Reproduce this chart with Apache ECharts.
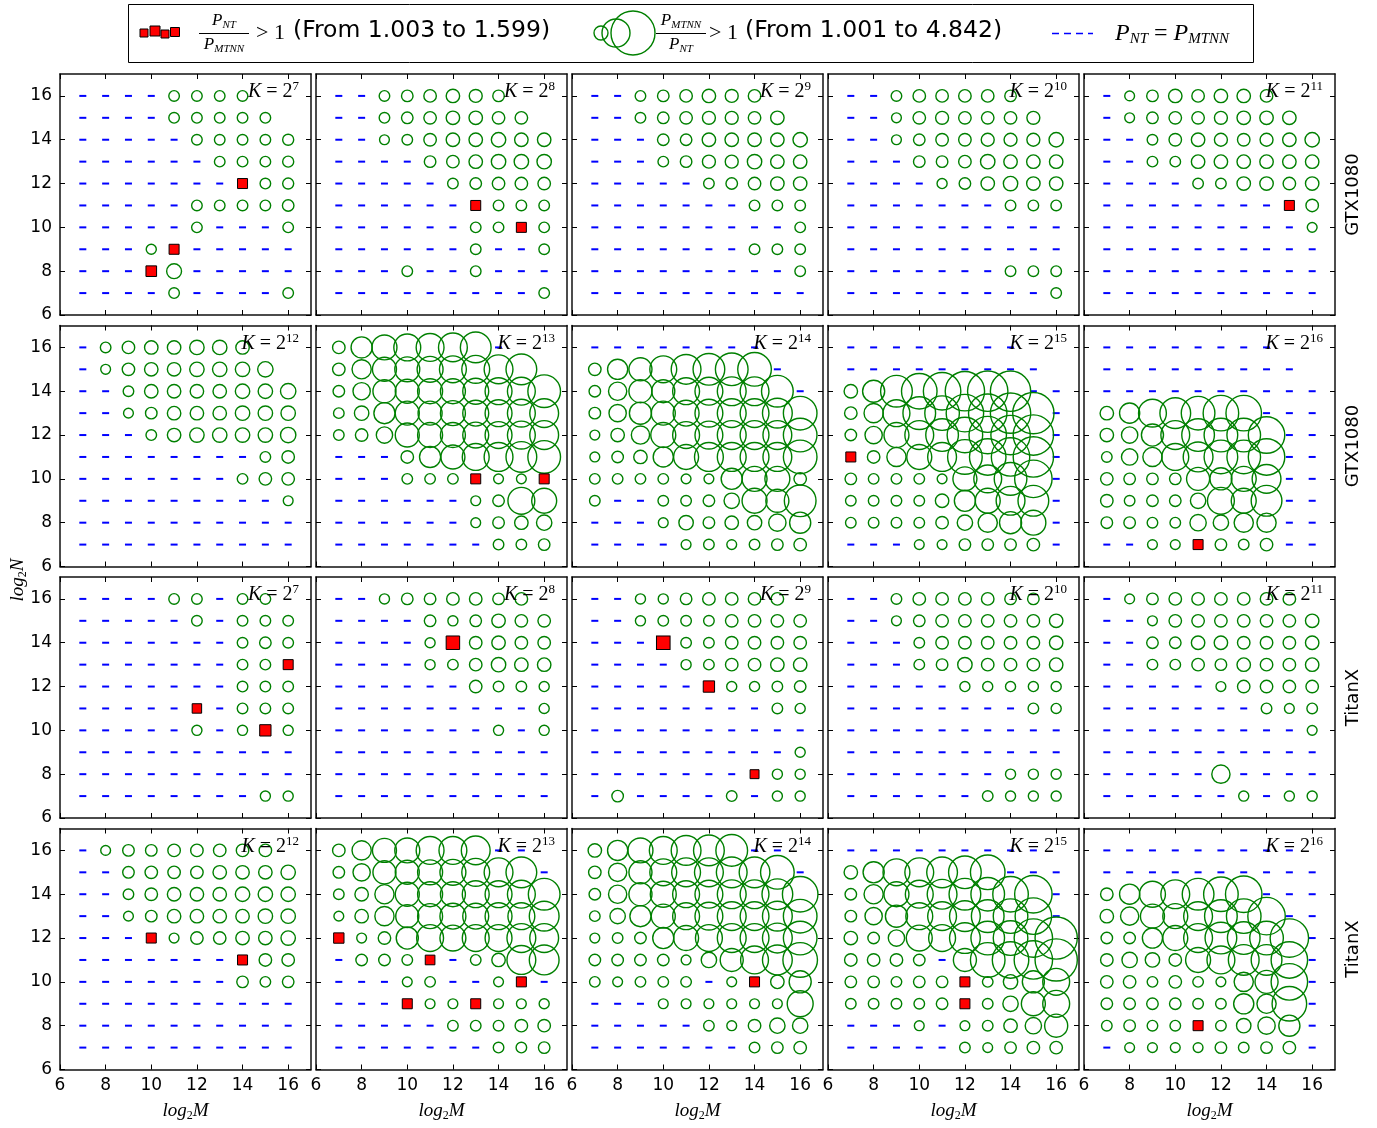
<!DOCTYPE html>
<html>
<head>
<meta charset="utf-8">
<title>NT vs MTNN</title>
<script src="https://cdn.jsdelivr.net/npm/echarts@6/dist/echarts.min.js"></script>
<style>
html,body{margin:0;padding:0;background:#fff;}
#main{width:1377px;height:1128px;}
</style>
</head>
<body>
<div id="main"></div>
<script>
var _ = null;
var M_VALUES = [7, 8, 9, 10, 11, 12, 13, 14, 15, 16];
var N_VALUES = [16, 15, 14, 13, 12, 11, 10, 9, 8, 7];
var TICKS = [6, 8, 10, 12, 14, 16];
var K_EXP = [7, 8, 9, 10, 11, 12, 13, 14, 15, 16];
var GPUS = ['GTX1080', 'TitanX'];

// P_MTNN / P_NT, rows N=16..7, columns M=7..16
// 1 = equal, >1 = MTNN faster (circle), <1 = NT faster (square), null = not run
var gtx_k7 = [
  [1,1,1,1,1.1,1.1,1.1,1.1,_,_],
  [1,1,1,1,1.1,1.1,1.1,1.1,1.1,_],
  [1,1,1,1,1,1.1,1.1,1.1,1.1,1.15],
  [1,1,1,1,1,1,1.1,1.1,1.1,1.15],
  [1,1,1,1,1,1,1,0.85,1.1,1.15],
  [1,1,1,1,1,1.1,1.1,1.1,1.1,1.2],
  [1,1,1,1,1,1.1,1,1,1,1.1],
  [1,1,1,1.05,0.85,1,1,1,1,1],
  [1,1,1,0.8,1.55,1,1,1,1,1],
  [1,1,1,1,1.1,1,1,1,1,1.1]
];
var gtx_k8 = [
  [1,1,1.1,1.2,1.3,1.4,1.35,1.2,_,_],
  [1,1,1.1,1.2,1.3,1.4,1.4,1.3,1.3,_],
  [1,1,1.02,1.1,1.3,1.4,1.4,1.5,1.4,1.4],
  [1,1,1,1,1.2,1.3,1.4,1.5,1.5,1.5],
  [1,1,1,1,1,1.1,1.2,1.3,1.3,1.3],
  [1,1,1,1,1,1,0.85,1.1,1.1,1.1],
  [1,1,1,1,1,1,1.1,1.1,0.85,1.1],
  [1,1,1,1,1,1,1.1,1,1,1.1],
  [1,1,1,1.1,1,1,1.1,1,1,1],
  [1,1,1,1,1,1,1,1,1,1.1]
];
var gtx_k9 = [
  [1,1,1.1,1.2,1.3,1.4,1.35,1.3,_,_],
  [1,1,1.1,1.2,1.3,1.35,1.35,1.3,1.4,_],
  [1,1,1,1.2,1.2,1.4,1.4,1.4,1.4,1.5],
  [1,1,1,1.1,1.2,1.35,1.35,1.5,1.4,1.4],
  [1,1,1,1,1,1.1,1.2,1.3,1.4,1.4],
  [1,1,1,1,1,1,1,1.1,1.1,1.1],
  [1,1,1,1,1,1,1,1,1,1.1],
  [1,1,1,1,1,1,1,1.1,1.1,1.1],
  [1,1,1,1,1,1,1,1,1,1.1],
  [1,1,1,1,1,1,1,1,1,1]
];
var gtx_k10 = [
  [1,1,1.1,1.3,1.3,1.3,1.3,1.2,_,_],
  [1,1,1.02,1.3,1.35,1.3,1.3,1.3,1.35,_],
  [1,1,1.02,1.2,1.3,1.3,1.35,1.35,1.35,1.5],
  [1,1,1,1.2,1.2,1.3,1.5,1.4,1.4,1.4],
  [1,1,1,1,1.05,1.2,1.4,1.5,1.4,1.4],
  [1,1,1,1,1,1,1,1.1,1.1,1.1],
  [1,1,1,1,1,1,1,1,1,1],
  [1,1,1,1,1,1,1,1,1,1],
  [1,1,1,1,1,1,1,1.1,1.1,1.1],
  [1,1,1,1,1,1,1,1,1,1.1]
];
var gtx_k11 = [
  [1,1.02,1.2,1.4,1.3,1.4,1.4,1.3,_,_],
  [1,1.02,1.2,1.3,1.3,1.35,1.4,1.4,1.4,_],
  [1,1,1.1,1.3,1.4,1.35,1.3,1.35,1.4,1.5],
  [1,1,1.1,1.1,1.4,1.4,1.4,1.4,1.4,1.4],
  [1,1,1,1,1.1,1.1,1.4,1.4,1.3,1.4],
  [1,1,1,1,1,1,1,1,0.85,1.3],
  [1,1,1,1,1,1,1,1,1,1.02],
  [1,1,1,1,1,1,1,1,1,1],
  [1,1,1,1,1,1,1,1,1,1],
  [1,1,1,1,1,1,1,1,1,1]
];
var gtx_k12 = [
  [1,1.1,1.3,1.4,1.4,1.5,1.5,1.4,_,_],
  [1,1.02,1.3,1.4,1.4,1.5,1.5,1.5,1.6,_],
  [1,1,1.1,1.4,1.4,1.4,1.4,1.5,1.5,1.6],
  [1,1,1.02,1.2,1.4,1.4,1.4,1.5,1.5,1.5],
  [1,1,1,1.1,1.4,1.5,1.5,1.5,1.5,1.6],
  [1,1,1,1,1,1,1,1,1.1,1.3],
  [1,1,1,1,1,1,1,1.1,1.3,1.3],
  [1,1,1,1,1,1,1,1,1,1.02],
  [1,1,1,1,1,1,1,1,1,1],
  [1,1,1,1,1,1,1,1,1,1]
];
var gtx_k13 = [
  [1.3,2.2,2.6,2.8,2.9,3.0,3.2,1,_,_],
  [1.3,2.0,2.5,2.6,2.7,2.8,2.9,3.0,3.2,_],
  [1.2,1.8,2.4,2.5,2.6,2.6,2.7,2.8,2.9,3.4],
  [1.1,1.5,2.2,2.5,2.5,2.6,2.7,2.8,2.9,3.0],
  [1.1,1.3,1.7,2.5,2.6,2.6,2.7,2.8,2.9,3.0],
  [1,1,1,1.3,2.2,2.5,2.8,3.0,3.2,3.4],
  [1,1,1,1.1,1.1,1.1,0.85,1.02,1.02,0.85],
  [1,1,1,1,1,1,1.02,1.2,2.8,2.6],
  [1,1,1,1,1,1,1.02,1.2,1.4,1.6],
  [1,1,1,1,1,1,1,1.1,1.1,1.2]
];
var gtx_k14 = [
  [1,1,1,1,1,1,1,1,_,_],
  [1.3,2.1,2.4,2.8,3.1,3.3,3.4,3.5,1,_],
  [1.2,1.9,2.4,2.4,2.8,2.9,3.0,3.0,3.3,1],
  [1.2,1.8,2.3,2.5,2.7,2.9,3.0,3.0,3.1,3.5],
  [1.02,1.4,1.9,2.6,2.8,2.9,3.0,3.0,3.0,3.5],
  [1.02,1.2,1.4,2.1,2.6,3.0,3.0,3.0,3.0,3.5],
  [1.1,1.1,1.1,1.1,1.02,1.02,2.2,2.6,2.6,1.3],
  [1.1,1,1,1.1,1.1,1.2,1.6,2.6,2.4,3.3],
  [1,1,1,1.02,1.5,1.2,1.4,1.5,1.8,2.2],
  [1,1,1,1,1.02,1.1,1.02,1.1,1.2,1.3]
];
var gtx_k15 = [
  [1,1,1,1,1,1,1,1,_,_],
  [1,1,1,1,1,1,1,1,1,_],
  [1.4,2.3,3.3,3.7,3.9,4.1,4.2,4.2,1,1],
  [1.3,2.0,2.8,3.4,3.6,3.9,4.0,4.2,4.3,1],
  [1.2,1.8,2.6,3.0,3.4,3.7,3.9,4.1,4.2,1],
  [0.85,1.3,2.0,2.6,3.0,3.6,3.8,4.0,4.2,1],
  [1.2,1.1,1.1,1.1,1.02,2.5,2.9,3.4,3.9,1],
  [1.1,1.1,1.1,1.1,1.4,2.2,2.6,3.0,3.2,1],
  [1.1,1.1,1.1,1.1,1.3,1.6,2.0,2.3,2.6,1],
  [1,1,1,1.02,1.02,1.2,1.2,1.2,1.3,1]
];
var gtx_k16 = [
  [1,1,1,1,1,1,1,1,_,_],
  [1,1,1,1,1,1,1,1,1,_],
  [1,1,1,1,1,1,1,1,1,1],
  [1.4,2.1,2.9,3.2,3.5,3.7,3.7,1,1,1],
  [1.4,1.7,2.3,3.0,3.4,3.5,3.5,3.8,1,1],
  [1.1,1.7,2.0,2.8,3.1,3.5,3.5,3.8,1,1],
  [1.3,1.2,1.2,1.2,2.4,2.3,2.6,3.0,1,1],
  [1.3,1.1,1.2,1.2,1.6,2.8,2.6,3.2,1,1],
  [1.2,1.2,1.1,1.1,1.7,1.6,2.0,2.0,1,1],
  [1,1,1.02,1.02,0.85,1.2,1.1,1.3,1,1]
];
var titan_k7 = [
  [1,1,1,1,1.1,1.1,1,1.1,1.1,_],
  [1,1,1,1,1,1.1,1,1.1,1.1,1.1],
  [1,1,1,1,1,1,1,1.1,1.2,1.1],
  [1,1,1,1,1,1,1,1.1,1.1,0.85],
  [1,1,1,1,1,1,1,1.1,1.1,1.1],
  [1,1,1,1,1,0.9,1,1.1,1.1,1.1],
  [1,1,1,1,1,1.05,1,1.05,0.75,1.05],
  [1,1,1,1,1,1,1,1,1,1],
  [1,1,1,1,1,1,1,1,1,1],
  [1,1,1,1,1,1,1,1,1.05,1.05]
];
var titan_k8 = [
  [1,1,1.05,1.2,1.2,1.3,1.3,1.2,1.3,_],
  [1,1,1,1,1.2,1.05,1.2,1.4,1.3,1.3],
  [1,1,1,1,1.05,0.63,1.3,1.4,1.3,1.3],
  [1,1,1,1,1.05,1.1,1.3,1.5,1.4,1.4],
  [1,1,1,1,1,1,1.3,1.1,1.1,1.05],
  [1,1,1,1,1,1,1,1,1,1.05],
  [1,1,1,1,1,1,1,1.05,1,1.05],
  [1,1,1,1,1,1,1,1,1,1],
  [1,1,1,1,1,1,1,1,1,1],
  [1,1,1,1,1,1,1,1,1,1]
];
var titan_k9 = [
  [1,1,1.05,1.05,1.2,1.3,1.3,1.3,1.3,_],
  [1,1,1.05,1.1,1.1,1.1,1.3,1.3,1.3,1.3],
  [1,1,1,0.625,1.1,1.1,1.3,1.3,1.3,1.3],
  [1,1,1,1,1.05,1.1,1.3,1.3,1.4,1.4],
  [1,1,1,1,1,0.75,1.05,1.05,1.1,1.2],
  [1,1,1,1,1,1,1,1,1.1,1.05],
  [1,1,1,1,1,1,1,1,1,1],
  [1,1,1,1,1,1,1,1,1,1.05],
  [1,1,1,1,1,1,1,0.95,1.05,1.05],
  [1,1.2,1,1,1,1,1.1,1,1.05,1.05]
];
var titan_k10 = [
  [1,1,1.1,1.3,1.3,1.3,1.3,1.2,1.2,_],
  [1,1,1.02,1.2,1.3,1.3,1.3,1.3,1.3,1.4],
  [1,1,1,1.1,1.3,1.3,1.3,1.3,1.3,1.4],
  [1,1,1,1.1,1.2,1.5,1.3,1.3,1.3,1.4],
  [1,1,1,1,1,1.05,1.05,1.05,1.05,1.05],
  [1,1,1,1,1,1,1,1,1.1,1.05],
  [1,1,1,1,1,1,1,1,1,1],
  [1,1,1,1,1,1,1,1,1,1],
  [1,1,1,1,1,1,1,1.05,1.05,1.05],
  [1,1,1,1,1,1,1.1,1.05,1.05,1.05]
];
var titan_k11 = [
  [1,1.02,1.2,1.3,1.3,1.3,1.3,1.3,1.3,_],
  [1,1,1.02,1.3,1.3,1.3,1.3,1.3,1.3,1.4],
  [1,1,1.2,1.2,1.4,1.4,1.3,1.3,1.3,1.4],
  [1,1,1.1,1.1,1.3,1.2,1.4,1.3,1.3,1.4],
  [1,1,1,1,1,1.02,1.3,1.3,1.3,1.3],
  [1,1,1,1,1,1,1,1.1,1.02,1.1],
  [1,1,1,1,1,1,1,1,1,1.02],
  [1,1,1,1,1,1,1,1,1,1],
  [1,1,1,1,1,1.9,1,1,1,1],
  [1,1,1,1,1,1,1.05,1,1.05,1.05]
];
var titan_k12 = [
  [1,1.02,1.2,1.2,1.3,1.3,1.3,1.3,1.3,_],
  [1,1,1.2,1.3,1.3,1.3,1.4,1.4,1.4,1.5],
  [1,1,1.1,1.3,1.4,1.4,1.4,1.5,1.5,1.5],
  [1,1,1.02,1.2,1.4,1.4,1.4,1.4,1.5,1.5],
  [1,1,1,0.85,1.02,1.3,1.3,1.4,1.4,1.5],
  [1,1,1,1,1,1,1,0.85,1.3,1.3],
  [1,1,1,1,1,1,1,1.2,1.1,1.2],
  [1,1,1,1,1,1,1,1,1,1],
  [1,1,1,1,1,1,1,1,1,1],
  [1,1,1,1,1,1,1,1,1,1]
];
var titan_k13 = [
  [1.3,2.0,2.5,2.6,2.9,2.9,3.0,1,1,_],
  [1.2,1.8,2.4,2.5,2.6,2.7,2.9,3.0,3.2,1],
  [1.1,1.4,2.0,2.5,2.6,2.6,2.8,2.8,2.9,3.3],
  [1.02,1.4,2.0,2.4,2.6,2.7,2.7,2.8,2.8,3.1],
  [0.82,1.02,1.3,2.3,2.8,2.7,2.8,2.8,3.0,3.0],
  [1,1.2,1.2,1.1,0.88,1,1.1,1.4,3.0,3.1],
  [1,1,1,1.02,1.1,1,1,1.02,0.85,1],
  [1,1,1,0.85,1.02,1.02,0.85,1.02,1.02,1.05],
  [1,1,1,1,1,1.1,1.1,1.1,1.3,1.3],
  [1,1,1,1,1,1,1,1.1,1.1,1.2]
];
var titan_k14 = [
  [1.4,2.1,2.6,2.9,3.1,3.2,3.3,1,1,_],
  [1.3,1.9,2.4,2.8,3.0,3.0,3.2,3.2,3.5,1],
  [1.2,1.9,2.4,2.7,2.8,2.9,3.0,3.0,3.2,3.7],
  [1.1,1.6,2.2,2.5,2.8,2.9,3.0,3.0,3.1,3.5],
  [1.02,1.1,1.2,2.2,2.6,2.8,3.0,3.0,3.1,3.5],
  [1.2,1.2,1.2,1.2,1.02,1.6,2.4,2.9,3.1,3.6],
  [1.1,1.02,1.1,1.1,1.1,1,1.02,0.85,1.4,2.3],
  [1,1,1,1.02,1.02,1.02,1.02,1.02,1.02,2.7],
  [1,1,1,1,1,1.1,1.02,1.3,1.6,1.6],
  [1,1,1,1,1,1,1,1.1,1.2,1.3]
];
var titan_k15 = [
  [1,1,1,1,1,1,1,1,1,_],
  [1.4,2.2,2.8,3.0,3.2,3.4,3.6,1,1,1],
  [1.2,2.0,2.6,2.9,3.1,3.3,3.5,3.7,3.9,1],
  [1.2,1.8,2.3,2.8,3.0,3.2,3.4,3.6,3.8,1],
  [1.4,1.2,1.7,2.7,2.8,3.2,3.5,3.6,4.0,4.4],
  [1.3,1.3,1.3,1.2,1,2.4,3.6,3.8,4.0,4.4],
  [1.2,1.2,1.1,1.2,1.2,0.85,1.1,1.5,2.3,2.8],
  [1.1,1.1,1.1,1.1,1.2,0.85,1.1,1.6,2.5,2.8],
  [1,1,1,1.02,1,1.02,1.1,1.4,1.7,2.4],
  [1,1,1,1,1,1.1,1.02,1.2,1.3,1.3]
];
var titan_k16 = [
  [1,1,1,1,1,1,1,1,1,_],
  [1,1,1,1,1,1,1,1,1,1],
  [1.3,2.1,2.7,3.0,3.3,3.6,3.8,1,1,1],
  [1.4,1.9,2.5,2.6,3.0,3.4,3.6,3.9,1,1],
  [1.2,1.2,2.1,2.6,3.0,3.3,3.4,3.5,4.0,1],
  [1.3,1.6,1.5,1.3,2.6,2.9,3.2,3.2,3.8,1],
  [1.3,1.3,1.1,1.3,1.1,1.02,2.0,2.4,3.8,1],
  [1.2,1.2,1.2,1.2,1.1,1.1,2.1,2.0,3.6,1],
  [1.1,1.2,1.1,1.1,0.85,1.1,1.5,1.8,2.2,1],
  [1,1.02,1.02,1.02,1.02,1.2,1.1,1.2,1.3,1]
];

var panels = [
  gtx_k7, gtx_k8, gtx_k9, gtx_k10, gtx_k11,
  gtx_k12, gtx_k13, gtx_k14, gtx_k15, gtx_k16,
  titan_k7, titan_k8, titan_k9, titan_k10, titan_k11,
  titan_k12, titan_k13, titan_k14, titan_k15, titan_k16
];

var MATH = 'Liberation Serif';
var SANS = 'DejaVu Sans';
var GREEN = '#008000', BLUE = '#0000ff', RED = '#ff0000';
var CIRCLE_PX = 9.6, SQUARE_PX = 8.5;

function pick(data, test) {
  var out = [];
  data.forEach(function (row, i) {
    row.forEach(function (v, j) {
      if (v !== null && test(v)) out.push([M_VALUES[j], N_VALUES[i], v]);
    });
  });
  return out;
}

var mathRich = function (size, sub) {
  return {
    i: {fontFamily: MATH, fontStyle: 'italic', fontSize: size, color: '#000', fill: '#000'},
    r: {fontFamily: MATH, fontSize: size, color: '#000', fill: '#000'},
    b: {fontFamily: MATH, fontStyle: 'italic', fontSize: sub, color: '#000', fill: '#000', padding: [Math.round(size * 0.45), 0, 0, 0]},
    n: {fontFamily: MATH, fontSize: sub, color: '#000', fill: '#000', padding: [Math.round(size * 0.45), 0, 0, 0]},
    s: {fontFamily: MATH, fontSize: sub, color: '#000', fill: '#000', padding: [0, 0, Math.round(size * 0.5), 0]}
  };
};

var grids = [], xAxes = [], yAxes = [], series = [], graphics = [];
var axisLine = {show: true, lineStyle: {color: '#111', width: 1.5}};
var tick = {show: true, inside: true, length: 5, customValues: TICKS, lineStyle: {color: '#000', width: 1}};

panels.forEach(function (data, p) {
  var r = Math.floor(p / 5), c = p % 5;
  var left = 60 + 256 * c, top = 74 + 251.5 * r;
  grids.push({left: left, top: top, width: 251, height: 241});

  var xBase = {gridIndex: p, type: 'value', min: 6, max: 17, interval: 2,
    axisLine: axisLine, axisTick: tick, splitLine: {show: false}};
  xAxes.push(Object.assign({}, xBase, {
    position: 'bottom',
    axisLabel: {show: r === 3, customValues: TICKS, fontFamily: SANS, fontSize: 17, color: '#000', margin: 8},
    name: r === 3 ? '{i|log}{n|2}{i|M}' : '',
    nameLocation: 'middle', nameGap: 31,
    nameTextStyle: {rich: mathRich(19, 12)}
  }));
  xAxes.push(Object.assign({}, xBase, {position: 'top', axisLabel: {show: false}}));

  var yBase = {gridIndex: p, type: 'value', min: 6, max: 17, interval: 2,
    axisLine: axisLine, axisTick: tick, splitLine: {show: false}};
  yAxes.push(Object.assign({}, yBase, {
    position: 'left',
    axisLabel: {show: c === 0, customValues: TICKS, fontFamily: SANS, fontSize: 17, color: '#000', margin: 8}
  }));
  yAxes.push(Object.assign({}, yBase, {position: 'right', axisLabel: {show: false}}));

  series.push({
    type: 'scatter', xAxisIndex: 2 * p, yAxisIndex: 2 * p,
    data: pick(data, function (v) { return v === 1; }),
    symbol: 'rect', symbolSize: [7, 2],
    itemStyle: {color: BLUE, opacity: 1}, z: 2
  });
  series.push({
    type: 'scatter', xAxisIndex: 2 * p, yAxisIndex: 2 * p,
    data: pick(data, function (v) { return v > 1; }),
    symbol: 'circle',
    symbolSize: function (d) { return d[2] * CIRCLE_PX; },
    itemStyle: {color: 'rgba(0,0,0,0)', borderColor: GREEN, borderWidth: 1.4, opacity: 1}, z: 3
  });
  series.push({
    type: 'scatter', xAxisIndex: 2 * p, yAxisIndex: 2 * p,
    data: pick(data, function (v) { return v < 1; }),
    symbol: 'rect',
    symbolSize: function (d) { return SQUARE_PX / d[2]; },
    itemStyle: {color: RED, borderColor: '#000', borderWidth: 1, opacity: 1}, z: 4
  });

  // K label in the top right corner
  graphics.push({
    type: 'text', x: left + 251 - 12, y: top + 18, z: 100,
    style: {
      text: '{i|K}{r| = 2}{s|' + K_EXP[p % 10] + '}',
      rich: mathRich(20, 13), align: 'right', verticalAlign: 'middle'
    }
  });
});

// row labels on the right
for (var r = 0; r < 4; r++) {
  graphics.push({
    type: 'text', x: 1353, y: 74 + 251.5 * r + 120.5, rotation: Math.PI / 2, z: 100,
    style: {text: GPUS[r < 2 ? 0 : 1], fontFamily: SANS, fontSize: 18, fill: '#000',
      align: 'center', verticalAlign: 'middle'}
  });
}

// shared y axis title
graphics.push({
  type: 'text', x: 18, y: 580, rotation: Math.PI / 2, z: 100,
  style: {text: '{i|log}{n|2}{i|N}', rich: mathRich(19, 12), align: 'center', verticalAlign: 'middle'}
});

// legend box
function frac(cx, num, den) {
  return [
    {type: 'text', x: cx, y: 21, z: 101, style: {text: num, rich: mathRich(17, 11), align: 'center', verticalAlign: 'middle'}},
    {type: 'line', z: 101, shape: {x1: cx - 25, y1: 33.5, x2: cx + 25, y2: 33.5}, style: {stroke: '#000', lineWidth: 1}},
    {type: 'text', x: cx, y: 45, z: 101, style: {text: den, rich: mathRich(17, 11), align: 'center', verticalAlign: 'middle'}}
  ];
}
function sq(cx, cy, s) {
  return {type: 'rect', z: 101, shape: {x: cx - s / 2, y: cy - s / 2, width: s, height: s},
    style: {fill: RED, stroke: '#000', lineWidth: 1}};
}
function ring(cx, cy, d) {
  return {type: 'circle', z: 101, shape: {cx: cx, cy: cy, r: d / 2},
    style: {fill: 'none', stroke: GREEN, lineWidth: 1.4}};
}
var legendItems = [
  {type: 'rect', z: 100, shape: {x: 128.5, y: 4.5, width: 1125, height: 58}, style: {fill: '#fff', stroke: '#000', lineWidth: 1}},
  sq(144, 33, 8), sq(155, 31, 10), sq(165, 34, 8), sq(175, 32, 9),
  {type: 'text', x: 256, y: 33, z: 101, style: {text: '> 1', fontFamily: MATH, fontSize: 22, fill: '#000', align: 'left', verticalAlign: 'middle'}},
  {type: 'text', x: 293, y: 31, z: 101, style: {text: '(From 1.003 to 1.599)', fontFamily: SANS, fontSize: 23.5, fill: '#000', align: 'left', verticalAlign: 'middle'}},
  ring(601, 33, 14), ring(616, 33, 28), ring(633, 33, 44),
  {type: 'text', x: 709, y: 33, z: 101, style: {text: '> 1', fontFamily: MATH, fontSize: 22, fill: '#000', align: 'left', verticalAlign: 'middle'}},
  {type: 'text', x: 745, y: 31, z: 101, style: {text: '(From 1.001 to 4.842)', fontFamily: SANS, fontSize: 23.5, fill: '#000', align: 'left', verticalAlign: 'middle'}},
  {type: 'line', z: 101, shape: {x1: 1052, y1: 33.5, x2: 1093, y2: 33.5}, style: {stroke: BLUE, lineWidth: 1.5, lineDash: [7, 5]}},
  {type: 'text', x: 1115, y: 34, z: 101, style: {text: '{i|P}{b|NT}{r| = }{i|P}{b|MTNN}', rich: mathRich(24, 15), align: 'left', verticalAlign: 'middle'}}
].concat(frac(224, '{i|P}{b|NT}', '{i|P}{b|MTNN}'), frac(681, '{i|P}{b|MTNN}', '{i|P}{b|NT}'));

var chart = echarts.init(document.getElementById('main'), null, {renderer: 'canvas'});
chart.setOption({
  backgroundColor: '#fff',
  animation: false,
  grid: grids,
  xAxis: xAxes,
  yAxis: yAxes,
  series: series,
  graphic: graphics.concat(legendItems)
});
</script>
</body>
</html>
